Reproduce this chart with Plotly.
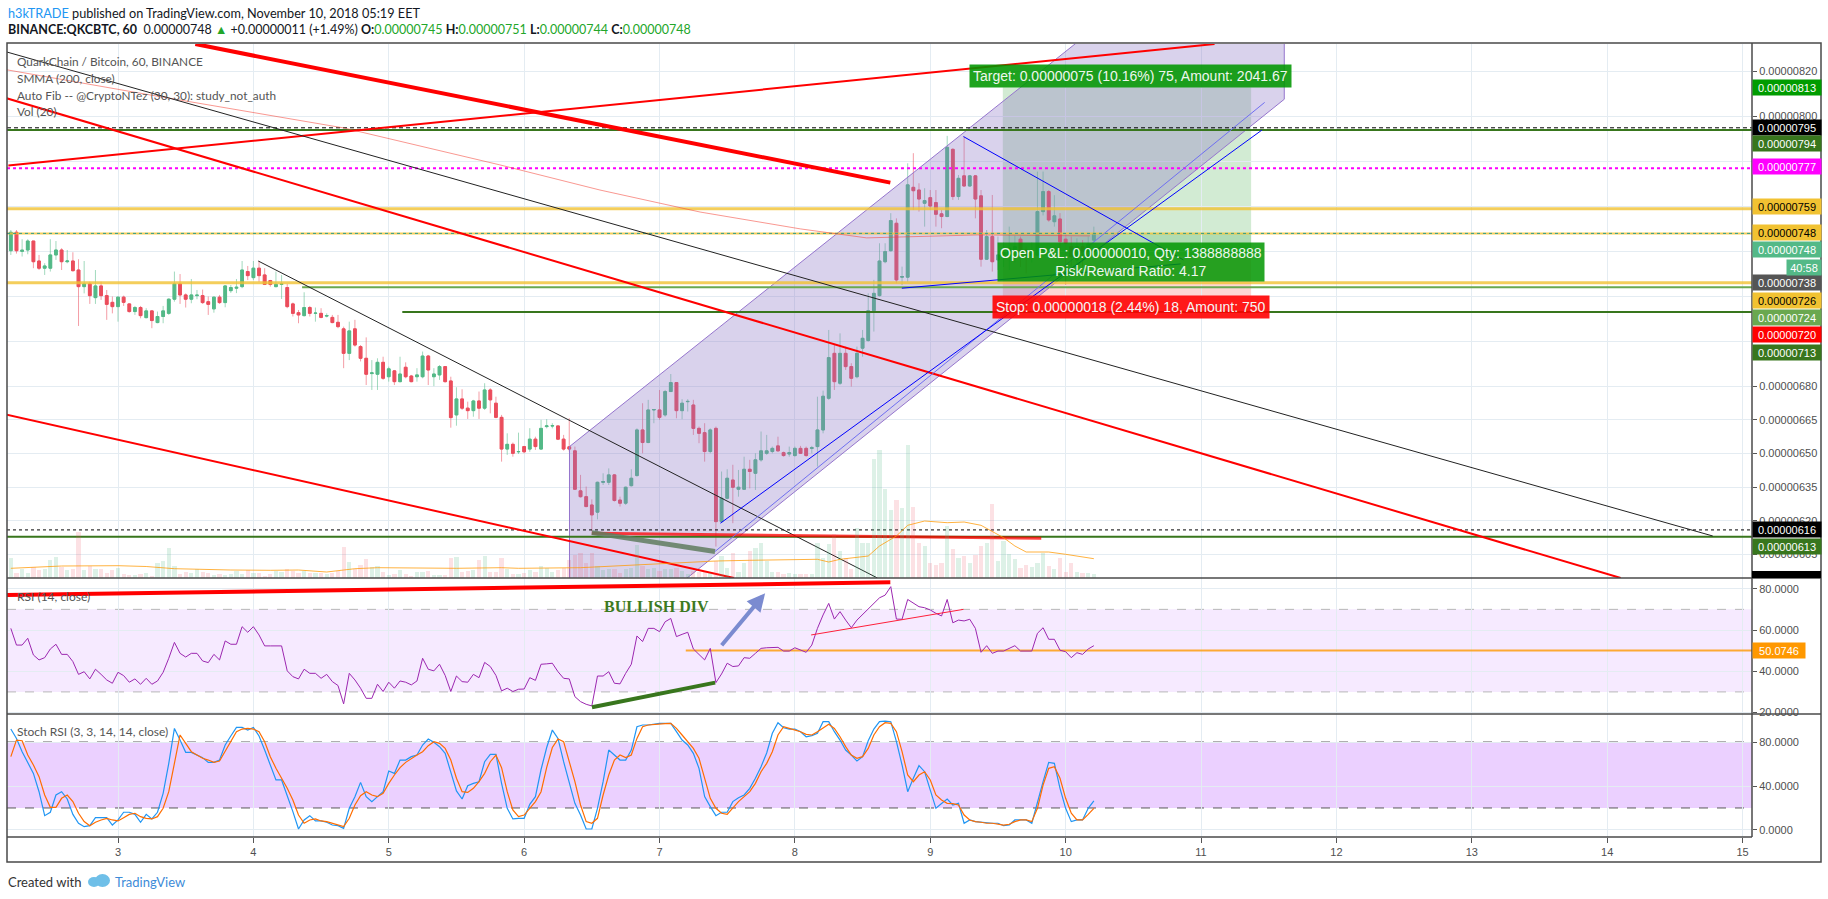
import plotly.graph_objects as go
import pandas as pd

# QKC/BTC hourly candles, prices in 1e-8 BTC
opens = [740.3, 748.5, 740.0, 740.6, 744.6, 735.7, 732.5, 732.5, 738.4, 740.6,
         735.4, 735.7, 731.7, 724.3, 725.5, 719.4, 724.6, 720.3, 717.3, 715.4,
         719.6, 716.6, 713.2, 715.0, 710.5, 713.5, 708.3, 711.0, 712.4, 718.7,
         725.5, 720.6, 718.7, 720.3, 720.3, 717.6, 714.4, 719.6, 717.2, 722.5,
         723.6, 724.3, 731.0, 728.3, 732.5, 729.5, 727.0, 724.3, 725.3, 723.9,
         716.6, 712.7, 711.4, 715.0, 712.4, 712.4, 711.2, 710.6, 708.4, 705.5,
         694.6, 705.5, 697.6, 692.4, 685.6, 685.3, 690.6, 684.2, 686.8, 682.0,
         688.4, 684.5, 684.2, 684.2, 693.4, 684.2, 685.0, 688.7, 682.3, 667.2,
         674.3, 670.2, 669.1, 673.4, 670.2, 678.3, 672.4, 666.1, 652.0, 654.1,
         650.8, 653.1, 652.0, 656.4, 652.0, 662.0, 662.3, 662.3, 656.4, 653.0,
         651.2, 633.4, 630.8, 627.1, 623.9, 637.2, 637.2, 640.5, 629.3, 627.9,
         635.7, 640.2, 660.5, 654.9, 669.4, 669.4, 667.2, 677.6, 681.6, 669.1,
         673.1, 671.6, 661.2, 659.3, 650.9, 661.2, 619.7, 630.1, 638.2, 634.1,
         634.1, 643.0, 641.2, 647.2, 650.1, 650.9, 653.4, 650.4, 649.8, 649.1,
         652.3, 652.3, 652.3, 653.1, 660.5, 674.6, 694.6, 681.3, 694.6, 688.7,
         684.2, 696.9, 700.3, 713.6, 720.3, 735.4, 740.3, 752.5, 728.5, 728.5,
         768.5, 767.3, 761.4, 763.9, 761.7, 756.7, 755.5, 785.4, 764.4, 773.6,
         769.1, 773.6, 764.7, 736.5, 746.6, 736.2, 738.4, 738.4, 740.0, 745.4,
         740.6, 738.4, 738.4, 757.7, 766.6, 753.2, 754.4, 745.4, 742.1, 736.2,
         742.1, 739.9, 745.0]
highs = [749.5, 749.5, 745.4, 745.4, 744.6, 738.4, 734.7, 745.4, 744.6, 741.4,
         740.6, 739.6, 736.5, 735.7, 726.5, 731.7, 726.5, 722.8, 719.9, 719.9,
         720.3, 716.9, 715.7, 715.7, 714.7, 713.9, 713.2, 715.7, 719.1, 731.0,
         729.9, 721.3, 727.7, 722.8, 723.0, 719.9, 719.9, 720.6, 725.0, 725.0,
         727.7, 735.7, 733.5, 735.7, 735.7, 732.5, 727.3, 731.0, 729.5, 725.5,
         717.2, 713.9, 721.8, 715.7, 715.0, 714.7, 712.4, 711.7, 711.7, 706.5,
         708.7, 709.5, 698.3, 701.7, 691.6, 692.4, 693.1, 688.7, 687.2, 693.1,
         690.6, 685.0, 688.0, 695.4, 693.9, 688.0, 689.4, 688.7, 684.2, 679.5,
         678.6, 673.1, 673.9, 677.6, 681.3, 679.1, 675.3, 667.2, 659.0, 654.9,
         659.3, 653.4, 661.3, 657.5, 665.0, 665.3, 663.5, 662.3, 658.3, 665.7,
         653.1, 640.5, 635.3, 629.6, 637.5, 641.2, 643.4, 640.9, 630.8, 635.3,
         643.0, 661.2, 672.4, 673.9, 669.6, 678.3, 678.3, 685.4, 681.6, 674.2,
         674.2, 673.9, 662.0, 663.5, 661.2, 662.0, 642.0, 643.0, 645.0, 642.7,
         648.6, 647.2, 650.1, 659.8, 658.3, 653.1, 657.5, 650.9, 653.1, 653.1,
         653.4, 653.1, 653.4, 675.3, 678.0, 705.0, 698.3, 703.5, 697.6, 690.2,
         697.6, 705.0, 721.3, 727.3, 743.6, 743.6, 757.0, 754.7, 733.2, 779.2,
         783.7, 770.3, 768.1, 767.3, 767.3, 758.4, 791.4, 785.9, 774.0, 791.1,
         774.0, 774.0, 767.3, 749.5, 765.1, 746.6, 744.0, 751.0, 747.0, 746.6,
         742.1, 744.0, 775.5, 775.5, 767.3, 765.0, 757.0, 748.0, 746.6, 745.8,
         745.0, 746.6, 751.0]
lows = [738.4, 739.0, 737.7, 738.7, 732.5, 731.7, 729.5, 731.0, 736.2, 731.7,
        734.7, 731.0, 706.8, 721.3, 716.6, 716.6, 718.4, 709.5, 712.4, 708.7,
        715.7, 712.7, 711.7, 710.2, 710.2, 705.8, 708.0, 708.0, 711.7, 717.6,
        716.6, 715.0, 716.9, 718.7, 716.6, 711.7, 712.7, 716.6, 715.1, 721.5,
        721.4, 723.6, 727.2, 727.2, 726.4, 725.0, 724.3, 724.0, 718.8, 714.7,
        711.0, 708.0, 711.0, 711.0, 708.7, 710.2, 710.6, 708.0, 705.8, 688.0,
        691.6, 697.6, 691.0, 680.5, 678.3, 678.3, 682.8, 682.0, 680.5, 681.7,
        683.5, 681.7, 682.0, 683.5, 680.5, 680.0, 682.8, 681.6, 661.5, 662.4,
        669.4, 665.4, 666.4, 665.4, 669.4, 667.9, 665.7, 646.4, 649.4, 648.6,
        649.8, 650.1, 650.8, 651.6, 651.6, 661.2, 661.2, 656.0, 651.3, 650.9,
        633.8, 630.4, 626.1, 615.3, 620.7, 636.0, 636.0, 628.6, 626.4, 627.1,
        635.3, 639.7, 650.1, 654.6, 663.5, 665.0, 666.4, 677.6, 665.7, 665.3,
        668.7, 658.3, 654.6, 646.4, 650.1, 608.6, 619.3, 629.6, 619.0, 630.8,
        633.8, 634.5, 633.8, 646.4, 649.4, 650.1, 650.9, 648.6, 648.6, 648.6,
        649.8, 648.6, 650.1, 644.2, 659.0, 673.9, 678.3, 680.5, 687.2, 679.8,
        683.5, 693.1, 699.8, 704.3, 719.9, 734.7, 739.9, 725.8, 725.0, 726.5,
        758.4, 757.7, 751.0, 758.4, 751.0, 750.3, 755.2, 762.9, 762.9, 768.8,
        768.8, 754.7, 733.2, 736.2, 731.0, 731.7, 733.0, 731.7, 735.0, 733.0,
        730.2, 735.0, 737.7, 756.0, 753.2, 751.0, 739.1, 725.0, 731.7, 729.5,
        733.2, 739.0, 744.0]
closes = [748.5, 740.3, 740.5, 744.6, 735.4, 732.5, 733.5, 738.4, 740.6, 735.4,
          735.7, 731.4, 724.3, 725.5, 720.3, 724.6, 720.3, 716.4, 715.4, 719.6,
          717.3, 713.2, 715.0, 711.4, 713.5, 709.2, 711.0, 713.5, 718.7, 725.5,
          720.6, 718.7, 720.6, 720.5, 717.2, 716.4, 719.6, 717.2, 724.6, 723.9,
          724.0, 731.7, 729.2, 732.5, 729.2, 725.3, 725.3, 725.3, 725.5, 715.4,
          712.4, 711.7, 715.0, 712.4, 712.5, 710.6, 711.4, 708.3, 706.5, 694.6,
          704.6, 698.3, 692.4, 685.3, 685.9, 690.6, 683.5, 687.7, 682.0, 685.4,
          684.2, 682.0, 685.0, 693.4, 687.2, 685.4, 688.7, 682.0, 666.0, 674.3,
          670.2, 669.1, 673.4, 670.2, 678.3, 673.9, 666.1, 652.0, 654.1, 650.1,
          650.9, 650.8, 656.4, 653.1, 661.2, 662.3, 662.4, 656.4, 652.0, 652.0,
          634.1, 630.8, 626.4, 622.7, 637.2, 637.5, 640.5, 629.1, 627.9, 635.0,
          639.0, 660.5, 654.9, 669.4, 669.6, 666.1, 677.6, 681.6, 669.1, 672.4,
          673.2, 661.2, 659.0, 650.9, 660.5, 619.7, 630.1, 639.0, 635.0, 635.0,
          643.0, 642.0, 647.2, 651.2, 651.2, 652.3, 651.2, 649.1, 650.4, 652.3,
          650.1, 649.1, 652.6, 660.5, 675.5, 692.7, 682.0, 694.6, 688.7, 683.5,
          694.6, 701.3, 713.6, 721.3, 735.7, 739.9, 753.7, 727.3, 728.8, 769.6,
          767.0, 763.3, 762.6, 760.2, 756.5, 755.5, 786.3, 764.4, 772.5, 769.1,
          773.6, 763.3, 736.5, 746.6, 735.4, 738.4, 739.4, 741.4, 742.1, 737.7,
          738.4, 739.0, 757.7, 766.6, 754.0, 755.8, 744.3, 743.6, 737.7, 742.1,
          739.9, 743.3, 748.0]
volumes = [20, 5, 9, 5, 11, 8, 9, 18, 21, 11, 8, 9, 46, 8, 12, 9, 9, 5, 8, 10,
           4, 3, 3, 4, 5, 2, 15, 17, 30, 12, 4, 6, 5, 9, 6, 5, 3, 4, 3, 4,
           7, 4, 8, 5, 5, 2, 4, 7, 6, 9, 7, 5, 7, 5, 5, 5, 4, 5, 7, 31,
           16, 9, 13, 19, 11, 12, 6, 3, 4, 8, 4, 2, 6, 6, 7, 3, 3, 3, 20, 21,
           6, 7, 8, 18, 22, 6, 6, 20, 9, 4, 4, 5, 8, 6, 12, 10, 6, 8, 10, 18,
           23, 25, 15, 25, 12, 8, 9, 9, 5, 9, 10, 33, 12, 9, 10, 7, 9, 9, 10, 7,
           4, 7, 6, 6, 5, 17, 22, 10, 25, 6, 15, 27, 30, 35, 17, 6, 6, 4, 5, 4,
           4, 4, 4, 35, 20, 34, 44, 27, 20, 9, 50, 35, 35, 119, 128, 89, 68, 78, 70, 133,
           71, 35, 32, 15, 13, 15, 52, 29, 20, 22, 15, 23, 32, 35, 74, 17, 37, 24, 19, 10,
           13, 11, 15, 25, 12, 9, 20, 6, 15, 6, 5, 5, 4]
rsi = [60.8, 52.7, 52.7, 56.0, 47.9, 45.5, 46.6, 50.8, 53.1, 48.2,
       48.2, 44.7, 38.5, 39.8, 36.3, 41.0, 38.5, 35.8, 34.2, 39.5,
       37.9, 34.7, 36.3, 33.7, 36.6, 33.7, 35.3, 39.5, 46.3, 54.0,
       48.7, 46.9, 48.7, 48.7, 45.0, 44.2, 48.2, 45.5, 54.7, 53.1,
       53.1, 61.6, 58.9, 61.6, 57.6, 52.3, 52.3, 52.3, 52.3, 40.2,
       37.4, 36.3, 41.0, 39.0, 39.0, 36.6, 38.5, 35.0, 33.1, 24.2,
       39.0, 35.8, 31.8, 26.9, 26.9, 33.7, 30.2, 34.7, 31.8, 35.3,
       34.7, 33.4, 35.3, 46.3, 41.0, 40.2, 43.4, 38.0, 30.2, 37.7,
       35.0, 34.7, 38.5, 36.9, 44.3, 42.3, 38.0, 30.5, 31.8, 30.2,
       31.3, 31.4, 36.9, 35.6, 43.4, 43.6, 43.9, 39.8, 36.6, 36.3,
       27.7, 25.3, 24.0, 23.2, 37.7, 37.7, 39.8, 34.2, 33.9, 39.0,
       43.4, 57.1, 54.4, 60.8, 60.8, 59.2, 64.0, 65.6, 56.8, 57.9,
       58.9, 50.8, 47.9, 45.5, 51.1, 34.5, 38.7, 43.9, 42.3, 42.6,
       46.6, 46.3, 48.7, 51.1, 51.4, 51.6, 51.6, 49.8, 49.8, 51.4,
       50.3, 49.2, 52.7, 60.8, 67.3, 72.9, 65.3, 68.9, 64.8, 61.1,
       64.8, 67.6, 70.5, 72.9, 75.6, 76.9, 81.0, 65.3, 65.2, 74.8,
       72.9, 71.3, 70.8, 69.7, 68.1, 66.8, 74.8, 63.5, 64.8, 64.4,
       65.2, 60.8, 49.2, 52.4, 48.7, 49.8, 49.8, 51.0, 52.4, 49.8,
       49.8, 49.8, 58.4, 61.1, 55.5, 55.5, 50.2, 49.5, 46.6, 49.0,
       48.2, 50.8, 52.4]
stoch_k = [91.8, 83.3, 71.2, 60.6, 51.5, 34.8, 13.0, 16.1, 31.8, 34.8,
           28.2, 14.2, 6.1, 3.0, 3.9, 11.2, 11.5, 11.2, 4.5, 9.1,
           16.1, 16.1, 14.2, 7.0, 14.2, 10.0, 16.1, 33.3, 60.6, 92.4,
           81.8, 70.6, 70.6, 68.2, 65.8, 61.5, 61.5, 63.6, 77.3, 85.5,
           93.3, 93.3, 90.9, 93.3, 85.5, 72.7, 59.1, 45.5, 45.5, 31.8,
           16.7, 0.9, 9.1, 13.0, 8.2, 8.2, 7.0, 4.5, 3.9, 1.5,
           19.7, 30.3, 43.3, 30.3, 25.8, 30.3, 34.8, 53.6, 51.5, 63.6,
           63.6, 66.7, 68.2, 77.3, 82.7, 79.7, 75.8, 69.7, 53.0, 35.5,
           28.2, 40.3, 42.4, 43.9, 62.1, 68.8, 68.8, 42.4, 19.7, 10.0,
           10.6, 10.6, 23.3, 30.3, 55.0, 75.0, 90.9, 83.3, 62.1, 43.9,
           24.2, 13.6, 0.9, 0.9, 19.7, 43.9, 72.7, 68.2, 63.6, 63.6,
           72.7, 93.9, 95.5, 95.5, 96.4, 97.0, 97.0, 97.0, 89.4, 81.8,
           77.3, 69.7, 56.1, 30.3, 21.2, 13.0, 16.1, 16.1, 25.8, 29.4,
           31.8, 37.9, 47.0, 57.6, 70.0, 88.0, 97.6, 93.0, 91.8, 91.8,
           89.4, 84.8, 85.8, 87.9, 98.5, 98.5, 89.4, 81.8, 72.7, 68.2,
           62.7, 66.7, 81.2, 91.8, 98.5, 99.1, 98.5, 80.3, 59.1, 34.8,
           47.0, 58.5, 53.0, 36.4, 19.7, 24.0, 28.2, 22.7, 24.2, 6.1,
           9.1, 7.6, 7.0, 6.1, 6.1, 6.1, 3.9, 4.5, 9.1, 9.1,
           9.1, 6.1, 25.8, 43.9, 61.5, 60.6, 37.9, 19.7, 7.6, 9.1,
           9.1, 19.7, 26.4]
stoch_d = [66.7, 81.8, 81.2, 68.2, 59.1, 48.5, 31.8, 20.6, 20.6, 28.8,
           31.8, 25.8, 15.2, 7.6, 3.9, 7.0, 9.1, 10.6, 9.1, 8.2,
           11.2, 14.2, 15.2, 12.1, 10.6, 10.0, 12.1, 19.7, 34.8, 62.1,
           86.4, 78.8, 71.2, 68.2, 65.2, 63.6, 61.5, 62.7, 71.2, 80.3,
           89.4, 91.8, 92.4, 91.8, 89.4, 80.3, 66.7, 56.1, 47.0, 37.9,
           27.3, 13.6, 6.1, 9.1, 10.0, 8.2, 7.6, 6.1, 4.5, 3.0,
           10.6, 22.7, 31.2, 34.8, 31.8, 30.3, 33.3, 42.4, 50.0, 56.7,
           61.5, 65.2, 68.2, 71.2, 76.7, 80.3, 78.8, 74.2, 63.6, 47.0,
           34.8, 34.2, 37.9, 43.9, 51.5, 62.1, 68.2, 56.7, 34.8, 18.2,
           12.1, 13.6, 19.7, 25.8, 34.8, 57.0, 75.0, 82.7, 80.3, 62.1,
           43.9, 22.7, 7.6, 6.1, 10.6, 31.8, 50.0, 63.6, 68.2, 65.8,
           68.2, 83.3, 93.9, 95.5, 96.1, 96.4, 96.7, 97.0, 92.4, 86.4,
           80.3, 74.2, 65.2, 47.0, 28.8, 19.7, 15.2, 14.2, 19.7, 25.8,
           30.3, 34.8, 42.4, 53.0, 60.6, 71.2, 86.4, 93.9, 92.4, 90.9,
           89.4, 87.0, 86.4, 89.4, 92.4, 96.1, 92.4, 84.8, 75.8, 68.2,
           65.2, 66.7, 74.2, 86.4, 93.9, 97.6, 97.0, 89.4, 71.2, 50.0,
           43.9, 50.0, 53.0, 45.5, 31.8, 27.3, 24.2, 23.9, 22.7, 13.6,
           9.1, 7.6, 7.0, 6.1, 6.1, 5.5, 4.5, 5.2, 7.6, 9.1,
           9.1, 7.6, 19.7, 40.9, 56.1, 57.6, 47.0, 28.8, 15.2, 9.1,
           9.1, 14.2, 19.7]

# SMMA(200): day of month / price
smma_days = [2.18, 3.24, 4.67, 5.82, 6.56, 7.30, 8.04, 8.53, 9.35, 10.18]
smma_vals = [820.8, 809.6, 794.9, 778.5, 767.3, 757.5, 750.0, 746.0, 747.3, 746.9]

# volume MA(20): candle number / value
volma_idx = [1, 10, 20, 25, 30, 35, 40, 47, 52, 57, 62, 66, 70, 80, 88, 91, 102, 120, 126,
             132, 144, 146, 148, 153, 155, 158, 160, 163, 167, 170, 173, 177, 179, 181, 185, 188, 193]
volma_vals = [9.7, 12, 12.3, 11.5, 9.3, 8.5, 8, 7.7, 8, 6, 9.3, 10.3, 10, 9.7, 10.3, 9.7, 10.3, 15.3, 17,
              17.7, 18.7, 16, 18.7, 22, 32, 42, 52.7, 57, 55.3, 56, 52.7, 40.3, 32, 26, 26, 23.7, 19.3]

# drawings (day, price)
red_thick_line = ([3.571, 8.705], [832.3, 770.6])
red_rising_line = ([2.19, 11.10], [778.2, 832.3])
red_falling_line = ([2.169, 14.10], [808.3, 594.6])
red_low_line = ([2.163, 7.55], [667.5, 594.6])
black_long_line = ([2.169, 14.78], [828.9, 613.3])
black_short_line = ([4.036, 8.61], [735.7, 594.6])
channel_days = [6.335, 11.615, 11.615, 6.335, 6.335]
channel_vals = [653.1, 906.5, 807.7, 552.6, 653.1]
blue_falling = ([9.245, 10.87], [791.1, 736.2])
blue_flat = ([8.79, 10.85], [723.6, 734.4])
blue_rising_a = ([7.45, 11.45], [619.0, 794.0])
blue_rising_b = ([7.41, 11.47], [606.4, 806.3])
div_price_line = ([6.50, 7.41], [614.8, 606.4])
red_support_line = ([6.50, 9.82], [614.5, 612.3])

# horizontal levels and where they start
level_vals = [795, 794, 777, 759, 748, 726, 724, 713, 616, 613]
level_from = [2.18, 2.18, 2.18, 2.18, 2.18, 2.18, 4.36, 5.10, 2.18, 2.18]

# position tool
pos_entry, pos_target, pos_stop, pos_last = 738, 813, 720, 748
pos_days = [9.536, 11.37]

# right scale labels
tag_vals = [813, 795, 794, 777, 759, 748, 748, 738, 726, 724, 720, 713, 616, 613]

# RSI drawings
rsi_red_thick = ([2.16, 8.705], [76.9, 83.1])
rsi_div_line = ([6.501, 7.411], [22.6, 34.5])
rsi_red_thin = ([8.12, 9.245], [57.6, 70.0])
rsi_level = 50.0746
rsi_level_from = 7.194
rsi_arrow = ((7.45, 51.9), (7.78, 77.8))

day_ticks = list(range(3, 16))

times = pd.date_range("2018-11-02 05:00", periods=len(closes), freq="h")
days = [t.day + t.hour / 24 for t in times]

# ---------------- layout helpers ----------------
W, H = 1828, 899
ML, MR, MT, MB = 7, 76, 44, 62
PW, PH = W - ML - MR, H - MT - MB


def fx(px):
    return (px - ML) / PW


def fy(py):
    return (H - MB - py) / PH


X_RANGE = [2.18, 15.07]
UP, DOWN = "#53b987", "#eb4d5c"
GRID = "#e4ecf2"
TICKFONT = dict(family="Liberation Sans, Arial", size=11, color="#4f4f4f")
LEG = "Lato, Liberation Sans"

fig = go.Figure()


def line(xy, color, width, dash="solid", xa="x", ya="y"):
    fig.add_trace(go.Scatter(x=xy[0], y=xy[1], mode="lines", xaxis=xa, yaxis=ya,
                             line=dict(color=color, width=width, dash=dash),
                             hoverinfo="skip"))


# channel
fig.add_trace(go.Scatter(x=channel_days, y=channel_vals, mode="lines", fill="toself",
                         fillcolor="rgba(140,118,196,0.33)",
                         line=dict(color="#9575cd", width=1), hoverinfo="skip"))

# horizontal levels
lvl_style = {795: ("#000000", 1, "4px,3px"), 794: ("#38761d", 2, "solid"),
             777: ("#ff00ff", 2, "dot"), 759: ("rgba(241,194,50,0.8)", 3, "solid"),
             748: ("rgba(241,194,50,0.8)", 2, "solid"), 726: ("rgba(241,194,50,0.8)", 3, "solid"),
             724: ("#6aa84f", 2, "solid"), 713: ("#38761d", 2, "solid"),
             616: ("#000000", 1, "dot"), 613: ("#38761d", 2, "solid")}
for v, d0 in zip(level_vals, level_from):
    c, w, ds = lvl_style[v]
    line(([d0, X_RANGE[1]], [v, v]), c, w, ds)
line(([X_RANGE[0], X_RANGE[1]], [pos_last, pos_last]), "#2a9d8f", 1, "dot")

# SMMA
fig.add_trace(go.Scatter(x=smma_days, y=smma_vals, mode="lines", line=dict(color="rgba(244,67,54,0.55)", width=1),
                         hoverinfo="skip"))

# trend lines
line(red_falling_line, "#ff0000", 2)
line(red_low_line, "#ff0000", 2)
line(red_rising_line, "#ff0000", 2)
line(black_long_line, "#222222", 1)
line(black_short_line, "#222222", 1)
line(red_support_line, "rgba(255,0,0,0.75)", 3)
line(div_price_line, "rgba(95,125,95,0.85)", 5)

# candles: wicks (light) then bodies
fig.add_trace(go.Candlestick(x=days, open=opens, high=highs, low=lows, close=closes,
                             increasing=dict(line=dict(color="rgba(83,185,135,0.55)", width=1),
                                             fillcolor="rgba(0,0,0,0)"),
                             decreasing=dict(line=dict(color="rgba(235,77,92,0.55)", width=1),
                                             fillcolor="rgba(0,0,0,0)"),
                             whiskerwidth=0, hoverinfo="skip"))
body_hi = [max(o, c) for o, c in zip(opens, closes)]
body_lo = [min(o, c) for o, c in zip(opens, closes)]
fig.add_trace(go.Candlestick(x=days, open=opens, high=body_hi, low=body_lo, close=closes,
                             increasing=dict(line=dict(color=UP, width=1), fillcolor=UP),
                             decreasing=dict(line=dict(color=DOWN, width=1), fillcolor=DOWN),
                             whiskerwidth=0, hoverinfo="skip"))

line(red_thick_line, "#ff0000", 4)
line(blue_rising_b, "#6f6ff0", 1)
line(blue_rising_a, "#0000ff", 1)
line(blue_falling, "#0000ff", 1)
line(blue_flat, "#0000ff", 1)

# volume on overlay axis
vol_colors = ["rgba(83,185,135,0.2)" if c >= o else "rgba(235,77,92,0.17)" for o, c in zip(opens, closes)]
fig.add_trace(go.Bar(x=days, y=volumes, marker=dict(color=vol_colors, line=dict(width=0)),
                     width=0.75 / 24, xaxis="x", yaxis="y4", hoverinfo="skip"))
fig.add_trace(go.Scatter(x=[days[i - 1] for i in volma_idx], y=volma_vals, mode="lines",
                         line=dict(color="rgba(255,152,0,0.75)", width=1), xaxis="x", yaxis="y4",
                         hoverinfo="skip"))

# RSI pane
line(rsi_red_thick, "#ff0000", 4, xa="x2", ya="y2")
line(([rsi_level_from, X_RANGE[1]], [rsi_level, rsi_level]), "rgba(255,152,0,0.8)", 2, xa="x2", ya="y2")
fig.add_trace(go.Scatter(x=days, y=rsi, mode="lines", line=dict(color="#9c27b0", width=1),
                         xaxis="x2", yaxis="y2", hoverinfo="skip"))
line(rsi_div_line, "#38761d", 4, xa="x2", ya="y2")
line(rsi_red_thin, "#ff1f3a", 1, xa="x2", ya="y2")

# Stoch RSI pane
fig.add_trace(go.Scatter(x=days, y=stoch_k, mode="lines", line=dict(color="#2196f3", width=1.2),
                         xaxis="x3", yaxis="y3", hoverinfo="skip"))
fig.add_trace(go.Scatter(x=days, y=stoch_d, mode="lines", line=dict(color="#ff6d00", width=1.2),
                         xaxis="x3", yaxis="y3", hoverinfo="skip"))

# ---------------- shapes ----------------
shapes = []
# position tool zones
shapes.append(dict(type="rect", xref="x", yref="y", x0=pos_days[0], x1=pos_days[1], y0=pos_entry, y1=pos_target,
                   fillcolor="rgba(76,175,80,0.25)", line=dict(width=0), layer="below"))
shapes.append(dict(type="rect", xref="x", yref="y", x0=pos_days[0], x1=pos_days[1], y0=pos_entry, y1=pos_last,
                   fillcolor="rgba(76,175,80,0.25)", line=dict(width=0), layer="below"))
shapes.append(dict(type="rect", xref="x", yref="y", x0=pos_days[0], x1=pos_days[1], y0=pos_stop, y1=pos_entry,
                   fillcolor="rgba(244,67,54,0.22)", line=dict(width=0), layer="below"))
# RSI band
shapes.append(dict(type="rect", xref="paper", yref="y2", x0=0, x1=1, y0=30, y1=70,
                   fillcolor="rgba(153,21,255,0.09)", line=dict(width=0), layer="below"))
for v in (30, 70):
    shapes.append(dict(type="line", xref="paper", yref="y2", x0=0, x1=1, y0=v, y1=v,
                       line=dict(color="#b8b8b8", width=1, dash="dash"), layer="below"))
# Stoch band
shapes.append(dict(type="rect", xref="paper", yref="y3", x0=0, x1=1, y0=20, y1=80,
                   fillcolor="rgba(153,21,255,0.2)", line=dict(width=0), layer="below"))
for v in (20, 80):
    shapes.append(dict(type="line", xref="paper", yref="y3", x0=0, x1=1, y0=v, y1=v,
                       line=dict(color="#5a5a5a", width=1, dash="dash"), layer="below"))
# frame
FR = "#4a4a4a"
shapes.append(dict(type="rect", xref="paper", yref="paper", x0=fx(7), x1=fx(1821), y0=fy(862), y1=fy(43),
                   line=dict(color=FR, width=1.5)))
shapes.append(dict(type="line", xref="paper", yref="paper", x0=1, x1=1, y0=fy(837), y1=fy(43),
                   line=dict(color=FR, width=1.5)))
for py in (578, 714):
    shapes.append(dict(type="line", xref="paper", yref="paper", x0=fx(7), x1=fx(1821), y0=fy(py), y1=fy(py),
                       line=dict(color=FR, width=1.5)))
shapes.append(dict(type="line", xref="paper", yref="paper", x0=0, x1=1, y0=0, y1=0,
                   line=dict(color=FR, width=1.5)))
# clipped scale tag at the very bottom of price pane
shapes.append(dict(type="rect", xref="paper", yref="paper", x0=1, x1=fx(1821), y0=fy(578), y1=fy(571),
                   fillcolor="#000000", line=dict(width=0)))
# footer logo
shapes.append(dict(type="circle", xref="paper", yref="paper", x0=fx(88), x1=fx(100), y0=fy(887), y1=fy(877),
                   fillcolor="#6fbfe8", line=dict(width=0)))
shapes.append(dict(type="circle", xref="paper", yref="paper", x0=fx(95), x1=fx(110), y0=fy(887), y1=fy(874),
                   fillcolor="#6fbfe8", line=dict(width=0)))

# ---------------- annotations ----------------
ann = []
GREEN_TXT = "#22a629"
ann.append(dict(xref="paper", yref="paper", x=fx(6), y=fy(12.5), xanchor="left", yanchor="middle", showarrow=False,
                text='<span style="color:#2196f3">h3kTRADE</span> published on TradingView.com, November 10, 2018 05:19 EET',
                font=dict(family=LEG, size=12.7, color="#131722")))
ann.append(dict(xref="paper", yref="paper", x=fx(6), y=fy(29.5), xanchor="left", yanchor="middle", showarrow=False,
                text=('<b>BINANCE:QKCBTC, 60</b>  0.00000748 <span style="color:%s">▲</span> +0.00000011 (+1.49%%) '
                      '<b>O:</b><span style="color:%s">0.00000745</span> <b>H:</b><span style="color:%s">0.00000751</span> '
                      '<b>L:</b><span style="color:%s">0.00000744</span> <b>C:</b><span style="color:%s">0.00000748</span>')
                % ((GREEN_TXT,) * 5),
                font=dict(family=LEG, size=12.5, color="#131722")))

legend_lines = [("QuarkChain / Bitcoin, 60, BINANCE", 61), ("SMMA (200, close)", 78.5),
                ("Auto Fib -- @CryptoNTez (30, 30): study_not_auth", 95), ("Vol (20)", 112)]
for t, py in legend_lines:
    ann.append(dict(xref="paper", yref="paper", x=fx(15), y=fy(py), xanchor="left", yanchor="middle",
                    showarrow=False, text=t, font=dict(family=LEG, size=11.8, color="#555555")))
ann.append(dict(xref="paper", yref="paper", x=fx(15), y=fy(596), xanchor="left", yanchor="middle",
                showarrow=False, text="RSI (14, close)", font=dict(family=LEG, size=12, color="#555555")))
ann.append(dict(xref="paper", yref="paper", x=fx(15), y=fy(731), xanchor="left", yanchor="middle",
                showarrow=False, text="Stoch RSI (3, 3, 14, 14, close)", font=dict(family=LEG, size=12, color="#555555")))

# scale tags
tag_bg = ["#009c00", "#000000", "#38761d", "#ff00ff", "#f1c232", "#f1c232", "#53b987", "#555555",
          "#f1c232", "#6aa84f", "#ff0000", "#38761d", "#000000", "#38761d"]
tag_shift = [0, 0, -13, 2, 2, 1, -16, -27, -18, -30, -38, -40, 0, -10]
for v, bg, sh in zip(tag_vals, tag_bg, tag_shift):
    fg = "#000000" if bg == "#f1c232" else "#ffffff"
    ann.append(dict(xref="paper", yref="y", x=1, y=v, yshift=sh, xanchor="left", yanchor="middle",
                    showarrow=False, text="0.00000%d" % v, bgcolor=bg, width=66, height=13, borderpad=1,
                    font=dict(family="Liberation Sans, Arial", size=11, color=fg)))
ann.append(dict(xref="paper", yref="y", x=fx(1786), y=pos_last, yshift=-34, xanchor="left", yanchor="middle",
                showarrow=False, text="40:58", bgcolor="#53b987", width=32, height=13, borderpad=1,
                font=dict(family="Liberation Sans, Arial", size=11, color="#ffffff")))
ann.append(dict(xref="paper", yref="y2", x=1, y=rsi_level, xanchor="left", yanchor="middle",
                showarrow=False, text="%.4f" % rsi_level, bgcolor="#ff9800", width=50, height=13, borderpad=1,
                font=dict(family="Liberation Sans, Arial", size=11, color="#ffffff")))

# position tool labels
ann.append(dict(xref="x", yref="y", x=10.48, y=818.2, showarrow=False,
                text="Target: 0.00000075 (10.16%) 75, Amount: 2041.67", bgcolor="rgba(0,150,0,0.88)",
                borderpad=3, font=dict(family="Liberation Sans, Arial", size=14, color="#eef7ee")))
ann.append(dict(xref="x", yref="y", x=10.48, y=735.2, showarrow=False,
                text="Open P&L: 0.00000010, Qty: 1388888888<br>Risk/Reward Ratio: 4.17",
                bgcolor="rgba(0,150,0,0.85)", borderpad=2, align="center",
                font=dict(family="Liberation Sans, Arial", size=14, color="#eef7ee")))
ann.append(dict(xref="x", yref="y", x=10.48, y=715.3, showarrow=False,
                text="Stop: 0.00000018 (2.44%) 18, Amount: 750", bgcolor="rgba(255,0,0,0.9)",
                borderpad=3, font=dict(family="Liberation Sans, Arial", size=14, color="#f5f5f5")))

# RSI pane text + arrow
ann.append(dict(xref="x2", yref="y2", x=6.976, y=71.3, showarrow=False, text="<b>BULLISH DIV</b>",
                font=dict(family="Liberation Serif, DejaVu Serif", size=16, color="#3d7a1f")))
(ta, tb), (ha, hb) = rsi_arrow
ann.append(dict(xref="x2", yref="y2", x=ha, y=hb, axref="x2", ayref="y2", ax=ta, ay=tb, text="",
                showarrow=True, arrowhead=2, arrowsize=0.9, arrowwidth=4, arrowcolor="#7b8bd0"))

# footer
ann.append(dict(xref="paper", yref="paper", x=fx(6), y=fy(882), xanchor="left", yanchor="middle", showarrow=False,
                text="Created with", font=dict(family=LEG, size=13, color="#333333")))
ann.append(dict(xref="paper", yref="paper", x=fx(113), y=fy(882), xanchor="left", yanchor="middle", showarrow=False,
                text="TradingView", font=dict(family=LEG, size=13, color="#3d8bd8")))

# ---------------- axes ----------------
price_ticks = [605, 620, 635, 650, 665, 680, 700, 720, 740, 760, 780, 800, 820]
price_text = ["" if 700 <= v <= 780 else "0.00000%d" % v for v in price_ticks]

xcommon = dict(range=X_RANGE, showgrid=True, gridcolor=GRID, zeroline=False, tickvals=day_ticks,
               showline=False, fixedrange=True)
fig.update_layout(
    width=W, height=H, margin=dict(l=ML, r=MR, t=MT, b=MB),
    paper_bgcolor="white", plot_bgcolor="white", showlegend=False, bargap=0,
    shapes=shapes, annotations=ann,
    xaxis=dict(domain=[0, 1], anchor="y", showticklabels=False, rangeslider=dict(visible=False), **xcommon),
    xaxis2=dict(domain=[0, 1], anchor="y2", matches="x", showticklabels=False, **xcommon),
    xaxis3=dict(domain=[0, 1], anchor="y3", matches="x", ticktext=[str(d) for d in day_ticks],
                ticks="outside", ticklen=5, tickcolor="#555555", tickfont=TICKFONT, **xcommon),
    yaxis=dict(domain=[fy(578), 1], anchor="x", side="right", range=[594.6, 832.3], tickvals=price_ticks,
               ticktext=price_text, ticks="outside", ticklen=4, tickcolor="#555555", tickfont=TICKFONT,
               showgrid=True, gridcolor=GRID, zeroline=False, fixedrange=True),
    yaxis4=dict(overlaying="y", anchor="x", range=[0, 534], visible=False, fixedrange=True),
    yaxis2=dict(domain=[fy(714), fy(578)], anchor="x2", side="right", range=[19.3, 85.2],
                tickvals=[20, 40, 60, 80], ticktext=["20.0000", "40.0000", "60.0000", "80.0000"],
                ticks="outside", ticklen=4, tickcolor="#555555", tickfont=TICKFONT,
                showgrid=True, gridcolor=GRID, zeroline=False, fixedrange=True),
    yaxis3=dict(domain=[0, fy(714)], anchor="x3", side="right", range=[-6.4, 105.5],
                tickvals=[0, 40, 80], ticktext=["0.0000", "40.0000", "80.0000"],
                ticks="outside", ticklen=4, tickcolor="#555555", tickfont=TICKFONT,
                showgrid=True, gridcolor=GRID, zeroline=False, fixedrange=True),
)

# the page's default body margin would push the figure 8px off; drop it
fig.write_html("out.html", config={"displayModeBar": False},
               post_script="document.body.style.margin='0';")
